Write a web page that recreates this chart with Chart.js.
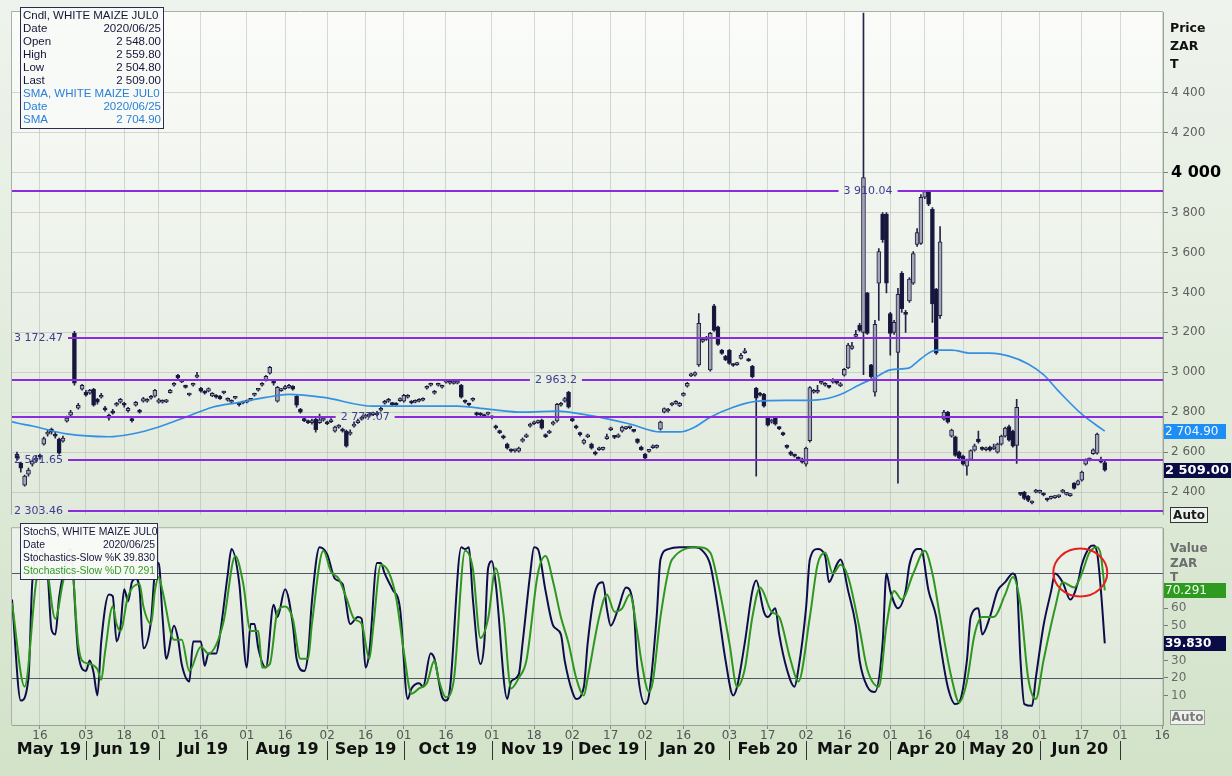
<!DOCTYPE html>
<html><head><meta charset="utf-8">
<script src="https://cdn.jsdelivr.net/npm/chart.js@4/dist/chart.umd.min.js"></script>
<style>
html,body{margin:0;padding:0;}
body{width:1232px;height:776px;overflow:hidden;position:relative;background:linear-gradient(#eff3ed,#d2e3c9);}
canvas{position:absolute;left:0;}
#c1{top:0;width:1232px;height:525px;}
#c2{top:518px;width:1232px;height:258px;}
</style></head><body>
<canvas id="c1" width="1232" height="525"></canvas>
<canvas id="c2" width="1232" height="258"></canvas>
<script>
// ---------------- DATA ----------------
const holidays = ['2019-05-08','2019-06-17','2019-08-09','2019-09-24','2019-12-16','2019-12-25','2019-12-26',
  '2020-01-01','2020-04-10','2020-04-13','2020-04-27','2020-05-01','2020-06-16'];
// trading day index 0 = 2019-05-07 ... 284 = 2020-06-25
const candleOpen = [
2590,2545,2435,2490,2540,2560,2580,2640,2690,2715,
2690,2665,2655,2755,2785,3195,2820,2915,2900,2895,
2915,2865,2875,2820,2785,2805,2835,2850,2845,2808,
2765,2835,2810,2855,2855,2870,2880,2850,2850,2852,
2898,2935,2985,2952,2932,2886,2935,2976,2920,2905,
2906,2882,2885,2880,2896,2860,2850,2870,2842,2846,
2850,2860,2885,2910,2935,2960,2995,2950,2855,2908,
2918,2924,2930,2880,2815,2768,2755,2748,2765,2748,
2760,2750,2752,2705,2725,2715,2705,2690,2730,2748,
2765,2775,2780,2788,2786,2810,2845,2855,2845,2842,
2858,2855,2875,2852,2850,2855,2860,2920,2935,2895,
2935,2925,2950,2945,2944,2946,2935,2858,2842,2860,
2795,2792,2784,2790,2778,2730,2705,2682,2640,2612,
2606,2605,2655,2676,2730,2742,2748,2760,2688,2696,
2740,2756,2835,2855,2899,2765,2730,2695,2645,2676,
2640,2600,2612,2614,2668,2712,2680,2676,2705,2718,
2722,2710,2665,2625,2590,2604,2622,2624,2715,2800,
2806,2836,2844,2832,2884,2930,2982,2985,3037,3155,
3165,3012,3333,3228,3110,3080,3110,3040,3038,3070,
3098,3066,3030,2920,2895,2890,2770,2750,2770,2724,
2694,2632,2600,2586,2572,2565,2540,2657,2900,2900,
2945,2935,2930,2950,2955,2932,2985,3022,3120,3180,
3235,3200,3398,3037,2900,3447,3793,3793,3294,3200,
3100,3496,3300,3358,3447,3640,3645,3877,3905,3817,
3417,3284,2765,2800,2680,2677,2600,2580,2530,2563,
2610,2665,2622,2612,2625,2616,2600,2640,2680,2728,
2705,2633,2392,2400,2380,2345,2400,2398,2392,2366,
2368,2372,2376,2400,2388,2382,2445,2438,2460,2540,
2560,2592,2595,2556,2548];
const candleHigh = [
2600,2550,2485,2520,2560,2580,2590,2675,2710,2720,
2700,2670,2680,2780,2810,3205,2845,2940,2910,2915,
2920,2870,2895,2830,2790,2815,2850,2870,2850,2825,
2775,2855,2815,2875,2868,2885,2915,2868,2862,2865,
2915,2948,2990,2962,2936,2896,2946,3000,2924,2908,
2922,2898,2888,2884,2906,2872,2862,2880,2846,2856,
2862,2870,2896,2920,2948,2985,3030,2955,2930,2920,
2935,2940,2934,2885,2820,2772,2760,2765,2770,2790,
2775,2756,2768,2730,2738,2720,2710,2712,2752,2765,
2780,2790,2795,2800,2805,2828,2860,2870,2850,2848,
2872,2890,2888,2858,2862,2868,2872,2932,2946,2910,
2946,2936,2965,2956,2955,2958,2940,2862,2846,2872,
2800,2798,2790,2800,2782,2735,2710,2686,2645,2616,
2615,2625,2672,2692,2746,2755,2760,2765,2692,2710,
2755,2845,2850,2875,2905,2770,2735,2700,2665,2690,
2645,2605,2625,2625,2690,2726,2684,2692,2730,2728,
2730,2714,2668,2630,2594,2614,2636,2636,2755,2822,
2820,2848,2858,2850,2898,2950,2996,3002,3294,3170,
3180,3200,3340,3232,3115,3085,3115,3044,3050,3095,
3120,3070,3035,2925,2900,2895,2775,2765,2775,2728,
2700,2636,2605,2590,2576,2570,2625,2928,2915,2935,
2960,2948,2935,2968,2960,2948,3020,3145,3150,3210,
3245,4800,3400,3040,3260,3620,3800,3800,3300,3260,
3420,3505,3310,3475,3605,3720,3890,3912,3912,3825,
3420,3730,2810,2805,2715,2680,2605,2585,2565,2612,
2640,2705,2626,2625,2630,2640,2645,2685,2725,2735,
2710,2864,2398,2404,2384,2356,2414,2410,2396,2370,
2380,2382,2386,2414,2398,2392,2448,2460,2505,2566,
2572,2616,2695,2575,2559.8];
const candleLow = [
2560,2500,2430,2480,2530,2550,2565,2635,2680,2690,
2670,2590,2650,2750,2780,2935,2815,2910,2880,2890,
2830,2840,2870,2805,2760,2790,2830,2845,2825,2800,
2750,2830,2795,2850,2850,2865,2875,2845,2845,2848,
2895,2930,2965,2948,2920,2882,2930,2972,2900,2890,
2902,2878,2870,2864,2892,2855,2846,2866,2830,2842,
2846,2856,2880,2905,2930,2955,2990,2935,2850,2904,
2914,2920,2910,2825,2795,2752,2742,2740,2700,2744,
2755,2738,2748,2700,2720,2700,2625,2685,2725,2744,
2760,2770,2775,2783,2782,2805,2840,2850,2832,2830,
2854,2850,2870,2842,2846,2852,2856,2915,2930,2890,
2930,2920,2945,2940,2940,2942,2870,2845,2830,2855,
2782,2780,2772,2785,2766,2715,2692,2666,2615,2600,
2600,2600,2650,2672,2725,2738,2744,2715,2672,2692,
2735,2750,2830,2850,2820,2752,2716,2680,2640,2672,
2615,2585,2608,2610,2664,2708,2668,2672,2700,2714,
2716,2700,2644,2608,2565,2600,2618,2620,2710,2796,
2800,2832,2840,2828,2880,2925,2978,2980,3030,3150,
3160,3005,3205,3135,3090,3058,3040,3030,3034,3066,
3094,3054,2972,2479,2880,2825,2730,2745,2735,2712,
2682,2618,2582,2575,2560,2545,2530,2650,2895,2895,
2940,2930,2920,2945,2940,2928,2980,3018,3115,3175,
3205,2988,3190,2970,2880,3260,3650,3398,3086,3190,
2444,3300,3200,3350,3440,3630,3640,3870,3835,3250,
3090,3270,2760,2745,2675,2578,2565,2535,2484,2558,
2605,2645,2608,2606,2605,2612,2595,2635,2675,2655,
2625,2543,2382,2362,2352,2340,2396,2394,2380,2354,
2364,2368,2372,2396,2384,2378,2414,2434,2455,2535,
2556,2588,2590,2546,2504.8];
const candleClose = [
2570,2520,2480,2510,2555,2570,2575,2668,2700,2700,
2680,2595,2670,2770,2800,2945,2835,2935,2885,2910,
2835,2850,2885,2812,2770,2795,2842,2865,2835,2820,
2758,2850,2800,2868,2862,2878,2910,2862,2856,2858,
2910,2942,2972,2956,2924,2892,2940,2980,2905,2895,
2918,2895,2875,2868,2902,2866,2856,2876,2836,2852,
2857,2866,2892,2916,2942,2980,3025,2945,2925,2916,
2926,2932,2915,2835,2800,2758,2748,2754,2712,2762,
2768,2742,2760,2725,2730,2705,2630,2700,2740,2755,
2772,2782,2786,2792,2796,2820,2852,2862,2838,2836,
2866,2885,2882,2846,2856,2862,2868,2926,2940,2905,
2942,2932,2956,2950,2950,2952,2875,2850,2836,2866,
2788,2786,2778,2794,2772,2722,2698,2672,2620,2605,
2610,2620,2665,2686,2740,2750,2754,2720,2678,2704,
2750,2839,2842,2868,2825,2758,2722,2688,2660,2686,
2620,2590,2620,2620,2676,2720,2674,2686,2725,2724,
2726,2704,2648,2612,2570,2610,2630,2630,2750,2818,
2815,2842,2852,2845,2892,2945,2990,2998,3245,3165,
3172,3195,3210,3140,3095,3062,3045,3034,3046,3085,
3104,3058,2978,2870,2885,2830,2735,2760,2740,2718,
2688,2624,2588,2580,2565,2550,2620,2923,2908,2906,
2955,2942,2924,2960,2945,2942,3015,3136,3132,3190,
3210,3975,3195,2978,3240,3605,3664,3447,3195,3250,
3390,3319,3290,3467,3595,3700,3877,3905,3842,3343,
3096,3654,2800,2750,2710,2583,2570,2540,2560,2608,
2632,2652,2614,2620,2610,2624,2640,2680,2720,2660,
2630,2825,2388,2368,2358,2352,2408,2404,2386,2360,
2374,2378,2382,2408,2394,2388,2418,2456,2500,2562,
2568,2612,2690,2550,2509];

const smaDay   = [-1.3,0,4,13,24,30,37,44,51,58,65,71,80,93,106,115,123,132,141,149,160,168,173,177,181,187,193,202,209,215,220,224,228,233,235,238,240,244,249,254,259,264,268,272,278,284];
const smaValue = [2752,2746,2731,2691,2677,2691,2726,2775,2825,2849,2874,2889,2874,2830,2830,2830,2815,2800,2805,2785,2741,2701,2701,2726,2775,2825,2854,2859,2862,2889,2938,2973,3012,3022,3052,3096,3111,3111,3096,3096,3081,3042,2988,2904,2790,2704.9];

const stochKDay = [-1.3,1,3,4,6,8,9,10,11,12,14,16,18,19,20,21,22,24,25,26,27,28,29,30,31,32,33,35,36,37,38,39,41,42,43,45,46,48,49,50,52,53,55,56,58,60,61,62,63,65,67,68,70,72,73,75,76,77,79,81,83,85,87,89,90,91,92,94,95,96,98,100,102,103,105,106,108,109,111,112,113,116,117,118,119,121,122,123,124,125,128,129,131,132,134,135,136,138,140,142,143,145,146,148,149,151,153,154,155,157,159,161,162,164,165,167,168,170,173,177,179,181,183,185,187,188,190,192,193,195,196,198,199,201,203,204,206,207,209,211,212,214,215,217,219,220,222,224,226,227,228,230,232,233,235,236,238,240,241,243,245,246,248,249,251,252,254,256,258,260,261,262,263,265,266,268,270,271,273,275,277,278,280,281,282,283,284];
const stochKValue = [65,7,20,75,94,80,48,45,66,79,94,34,24,30,23,10,41,68,67,41,49,71,64,75,77,71,37,53,81,86,55,31,50,43,28,18,41,41,27,34,34,45,79,94,75,26,51,51,37,26,62,55,71,51,31,24,34,64,95,91,77,74,51,55,54,26,35,86,86,80,71,60,8,14,17,15,34,31,9,7,13,95,94,95,66,28,40,83,87,74,8,18,22,40,80,95,94,70,50,45,30,12,8,15,40,70,75,60,50,60,72,60,25,5,10,55,88,94,95,95,93,85,60,30,10,15,40,70,76,58,55,60,45,25,15,25,60,88,94,90,75,85,88,70,50,30,15,12,40,80,70,60,70,85,94,94,70,55,40,15,5,6,30,55,60,45,55,70,75,80,75,30,5,4,20,50,70,80,75,65,75,85,95,96,92,70,39.83];
const stochDDay = [-1.3,2,5,7,10,12,14,16,17,19,21,22,23,25,26,27,29,32,33,35,36,37,38,41,43,45,48,50,52,54,57,59,61,63,64,66,68,70,72,74,76,77,80,82,84,86,88,90,92,93,95,97,99,101,103,105,107,109,110,112,114,117,119,121,123,125,127,129,131,133,136,138,140,142,144,146,148,149,152,154,156,158,160,162,163,165,166,168,171,178,181,183,186,188,190,192,194,197,199,202,204,207,209,211,213,215,217,220,222,225,227,229,231,234,237,239,241,244,246,248,250,252,255,258,260,262,264,266,268,271,273,276,278,280,282,283,284];
const stochDValue = [63,15,75,92,54,75,90,39,30,28,25,19,35,61,51,47,67,74,61,51,70,78,70,42,42,24,38,34,39,53,90,75,47,47,26,28,58,61,54,31,31,51,93,81,77,66,54,51,31,49,85,81,66,35,11,14,17,30,20,9,18,93,83,43,54,83,57,14,20,30,80,90,75,55,40,20,10,20,55,68,58,60,68,45,30,12,18,55,88,95,92,75,40,15,25,55,72,58,55,30,18,55,85,92,80,85,78,48,25,15,50,70,65,80,93,80,55,20,6,18,45,55,55,68,78,62,20,8,30,60,75,72,80,92,95,90,70.29];

const priceTicks = [2400,2600,2800,3000,3200,3400,3600,3800,4000,4200,4400];
const stochTicks = [10,20,30,40,50,60,70];
const levelValues = [3910.04, 3172.47, 2963.2, 2777.07, 2561.65, 2303.46];
const levelLabelAt = [222.2, null, 140.7, 90.9, null, null]; // label centre (trading-day index) or null = left edge
const stochLevels = [20, 80];

const priceLegend = [
  ['Cndl, WHITE MAIZE JUL0',''],['Date','2020/06/25'],['Open','2 548.00'],['High','2 559.80'],
  ['Low','2 504.80'],['Last','2 509.00'],['SMA, WHITE MAIZE JUL0',''],['Date','2020/06/25'],['SMA','2 704.90']];
const stochLegend = [['StochS, WHITE MAIZE JUL0',''],['Date','2020/06/25'],['Stochastics-Slow %K','39.830'],['Stochastics-Slow %D','70.291']];
const lastSMA = 2704.90, lastClose = 2509.00, lastK = 39.830, lastD = 70.291;

// ---------------- CALENDAR ----------------
function tradingDays(n){
  const out=[]; const d=new Date(Date.UTC(2019,4,6));
  while(out.length<n){
    const dow=d.getUTCDay(), s=d.toISOString().slice(0,10);
    if(dow!==0 && dow!==6 && !holidays.includes(s)) out.push(new Date(d));
    d.setUTCDate(d.getUTCDate()+1);
  }
  return out;
}
const days = tradingDays(305); // days[k] -> index k-1
const X_MIN = -1.3, X_MAX = 299.2;
const half = d => d.getUTCDate()>=16 ? 1 : 0;
const dayTicks = [], monthStarts = [];
for(let k=1;k<days.length;k++){
  const d=days[k], p=days[k-1], idx=k-1;
  if(d.getUTCMonth()!==p.getUTCMonth()){ monthStarts.push({idx, y:d.getUTCFullYear(), m:d.getUTCMonth()}); }
  if((d.getUTCMonth()!==p.getUTCMonth() || half(d)!==half(p)) && idx>=X_MIN && idx<=X_MAX)
    dayTicks.push({idx, label:String(d.getUTCDate()).padStart(2,'0')});
}
const tickLabel = {}; dayTicks.forEach(t=>tickLabel[t.idx]=t.label);
const monthNames=['Jan','Feb','Mar','Apr','May','Jun','Jul','Aug','Sep','Oct','Nov','Dec'];

// ---------------- HELPERS ----------------
const FONT = '"DejaVu Sans", Verdana, sans-serif';
const LFONT = '"Liberation Sans", Arial, sans-serif';
Chart.defaults.font.family = FONT;
const GRID = 'rgba(165,176,160,0.45)';
const AXIS = '#98a296';
const grp = s => s.replace(/\B(?=(\d{3})+(?!\d))/g,' ');
const fmtRaw = v => { const [a,b]=String(v).split('.'); return grp(a)+(b!==undefined?'.'+b:''); };
const fmtFix = (v,d) => { const [a,b]=Number(v).toFixed(d).split('.'); return grp(a)+(b?'.'+b:''); };

function areaBg(ctx,a,c1,c2){
  const g=ctx.createLinearGradient(0,a.top,0,a.bottom); g.addColorStop(0,c1); g.addColorStop(1,c2);
  ctx.fillStyle=g; ctx.fillRect(a.left,a.top,a.right-a.left,a.bottom-a.top);
}
function tagBox(ctx,x,yc,w,h,txt,bgc,fg,font){
  ctx.fillStyle=bgc; ctx.fillRect(x,Math.round(yc-h/2),w,h);
  ctx.fillStyle=fg; ctx.font=font; ctx.textAlign='left'; ctx.textBaseline='middle';
  ctx.fillText(txt,x+1,Math.round(yc)+0.5);
}
function legendBox(ctx,x,y,w,rows,colors,step,size){
  ctx.fillStyle='rgba(248,250,247,0.96)'; ctx.fillRect(x,y,w,rows.length*step+4);
  ctx.strokeStyle='#2c2c50'; ctx.lineWidth=1; ctx.strokeRect(x+0.5,y+0.5,w,rows.length*step+4);
  ctx.font=size+'px '+LFONT; ctx.textBaseline='middle';
  rows.forEach((r,i)=>{
    const yy=y+2+step*i+step/2+0.5;
    ctx.fillStyle=colors[i];
    ctx.textAlign='left'; ctx.fillText(r[0],x+3,yy);
    if(r[1]){ctx.textAlign='right'; ctx.fillText(r[1],x+w-2,yy);}
  });
  ctx.textAlign='left';
}
function autoBox(ctx,x,y,w,h,stroke,fg){
  ctx.fillStyle='#eef2ec'; ctx.fillRect(x,y,w,h);
  ctx.strokeStyle=stroke; ctx.lineWidth=1; ctx.strokeRect(x+0.5,y+0.5,w,h);
  ctx.fillStyle=fg; ctx.font='bold 12px '+FONT; ctx.textBaseline='middle'; ctx.textAlign='center';
  ctx.fillText('Auto',x+w/2+0.5,y+h/2+1); ctx.textAlign='left';
}

const xScaleBase = {
  type:'linear', min:X_MIN, max:X_MAX, offset:false,
  afterBuildTicks:s=>{ s.ticks = dayTicks.map(t=>({value:t.idx})); },
  grid:{color:GRID, offset:false}
};

// ---------------- PRICE CHART ----------------
const pricePlugin = {
  id:'pricePlugin',
  beforeDraw(chart){ const {ctx,chartArea:a}=chart; ctx.save(); areaBg(ctx,a,'#fbfcfa','#e0e9db'); ctx.restore(); },
  beforeDatasetsDraw(chart){
    const {ctx,chartArea:a}=chart; ctx.save();
    ctx.strokeStyle='#a9b1a7'; ctx.lineWidth=1;
    ctx.beginPath(); ctx.moveTo(a.left-0.5,a.bottom); ctx.lineTo(a.left-0.5,a.top-0.5); ctx.lineTo(a.right,a.top-0.5); ctx.stroke();
    ctx.restore();
  },
  afterDatasetsDraw(chart){
    const {ctx,chartArea:a,scales:{x,y}}=chart; ctx.save();
    ctx.font='11px '+FONT; ctx.textBaseline='middle';
    levelValues.forEach((v,k)=>{
      const py=Math.round(y.getPixelForValue(v));
      const txt=fmtRaw(v), w=ctx.measureText(txt).width;
      const t0 = levelLabelAt[k]===null ? a.left+2 : x.getPixelForValue(levelLabelAt[k])-w/2;
      const t1 = t0+w;
      ctx.strokeStyle='#8b2be0'; ctx.lineWidth=2; ctx.beginPath();
      if(t0-5>a.left){ctx.moveTo(a.left,py); ctx.lineTo(t0-5,py);}
      ctx.moveTo(t1+5,py); ctx.lineTo(a.right,py); ctx.stroke();
      ctx.fillStyle='#3d3d90'; ctx.fillText(txt,t0,py+0.5);
    });
    ctx.restore();
  },
  afterDraw(chart){
    const {ctx,chartArea:a,scales:{y}}=chart; ctx.save();
    legendBox(ctx,20,7,143,priceLegend,['#15153a','#15153a','#15153a','#15153a','#15153a','#15153a','#2a7fd6','#2a7fd6','#2a7fd6'],13,11.5);
    ctx.fillStyle='#111'; ctx.font='bold 12.5px '+FONT; ctx.textBaseline='middle';
    ['Price','ZAR','T'].forEach((t,i)=>ctx.fillText(t,1170,29+i*18));
    tagBox(ctx,a.right+1,y.getPixelForValue(lastSMA),62,15,fmtFix(lastSMA,2),'#1d8ef5','#f4f8ff','12px '+FONT);
    tagBox(ctx,a.right+1,y.getPixelForValue(lastClose),67,15,fmtFix(lastClose,2),'#0b0b46','#ffffff','bold 13px '+FONT);
    autoBox(ctx,1170,507,37,15,'#333','#1a1a1a');
    ctx.restore();
  }
};

const bull = c => c.raw && c.raw.y[1] >= c.raw.y[0];
new Chart(document.getElementById('c1'),{
  type:'bar',
  data:{datasets:[
    {type:'line', label:'SMA', data:smaDay.map((d,i)=>({x:d,y:smaValue[i]})), borderColor:'#3490e2', borderWidth:1.7,
     pointRadius:0, cubicInterpolationMode:'monotone', order:0},
    {label:'body', data:candleOpen.map((o,i)=>({x:i,y:[o,candleClose[i]]})), grouped:false, barThickness:4, minBarLength:2,
     borderWidth:1, borderSkipped:false, order:1,
     backgroundColor:c=> bull(c)?'#a3a4b3':'#15153c', borderColor:'#1d1d45'},
    {label:'wick', data:candleHigh.map((h,i)=>({x:i,y:[candleLow[i],h]})), grouped:false, barThickness:1,
     borderWidth:0, backgroundColor:'#24244a', order:2}
  ]},
  options:{
    responsive:false, animation:false, devicePixelRatio:1, events:[],
    layout:{padding:{left:12,top:12,right:0,bottom:3}},
    plugins:{legend:{display:false},tooltip:{enabled:false}},
    scales:{
      x:Object.assign({}, xScaleBase, {ticks:{display:false}, grid:{color:GRID, offset:false, drawTicks:false}, border:{display:false},
        afterFit:s=>{s.height=0;}}),
      y:{type:'linear', position:'right', min:2286, max:4805, beginAtZero:false,
        afterBuildTicks:s=>{ s.ticks=priceTicks.map(v=>({value:v})); },
        afterFit:s=>{ s.width=69; },
        grid:{color:GRID, tickColor:'#7a7a7a', tickLength:5},
        border:{display:true,color:AXIS},
        ticks:{padding:3, autoSkip:false,
          color:c=> c.tick && c.tick.value===4000 ? '#000' : '#5e5e5e',
          font:c=> c.tick && c.tick.value===4000 ? {family:FONT,size:16,weight:'bold'} : {family:FONT,size:12},
          callback:v=>fmtRaw(v)}
      }
    }
  },
  plugins:[pricePlugin]
});

// ---------------- STOCHASTICS CHART ----------------
const stochPlugin = {
  id:'stochPlugin',
  beforeDraw(chart){ const {ctx,chartArea:a}=chart; ctx.save(); areaBg(ctx,a,'#edf2ea','#dbe7d5'); ctx.restore(); },
  beforeDatasetsDraw(chart){
    const {ctx,chartArea:a,scales:{y}}=chart; ctx.save();
    ctx.strokeStyle='#a9b1a7'; ctx.lineWidth=1;
    ctx.beginPath(); ctx.moveTo(a.left-0.5,a.bottom); ctx.lineTo(a.left-0.5,a.top-0.5); ctx.lineTo(a.right,a.top-0.5); ctx.stroke();
    ctx.strokeStyle='#4f5768'; ctx.lineWidth=1.2;
    stochLevels.forEach(v=>{ const py=Math.round(y.getPixelForValue(v))+0.5; ctx.beginPath(); ctx.moveTo(a.left,py); ctx.lineTo(a.right,py); ctx.stroke(); });
    ctx.restore();
  },
  afterDatasetsDraw(chart){
    const {ctx,scales:{x,y}}=chart; ctx.save();
    ctx.strokeStyle='#e3211d'; ctx.lineWidth=2; ctx.beginPath();
    ctx.ellipse(x.getPixelForValue(277.6), y.getPixelForValue(80.5), 27, 24, 0, 0, Math.PI*2); ctx.stroke();
    ctx.restore();
  },
  afterDraw(chart){
    const {ctx,chartArea:a,scales:{x,y}}=chart; ctx.save();
    legendBox(ctx,20,5,137,stochLegend,['#15153a','#15153a','#15153a','#2f9a22'],13,10.4);
    ctx.fillStyle='#6e6e6e'; ctx.font='bold 12px '+FONT; ctx.textBaseline='middle'; ctx.textAlign='left';
    ['Value','ZAR','T'].forEach((t,i)=>ctx.fillText(t,1170,31+i*14.5));
    tagBox(ctx,a.right+1,y.getPixelForValue(lastD),62,15,fmtFix(lastD,3),'#2e9a20','#f0fff0','12px '+FONT);
    tagBox(ctx,a.right+1,y.getPixelForValue(lastK),62,15,fmtFix(lastK,3),'#0b0b46','#ffffff','bold 12px '+FONT);
    autoBox(ctx,1170,192,34,14,'#9a9a9a','#7a7a7a');
    // month labels
    const yb=a.bottom;
    ctx.font='bold 16px '+FONT; ctx.fillStyle='#111'; ctx.textAlign='center'; ctx.textBaseline='middle';
    let prevIdx = X_MIN, prevY=2019, prevM=4;
    monthStarts.forEach(ms=>{
      if(ms.idx>X_MAX) return;
      const x0=x.getPixelForValue(prevIdx), x1=x.getPixelForValue(ms.idx);
      ctx.fillText(monthNames[prevM]+' '+String(prevY).slice(2),(x0+x1)/2,yb+25);
      const sx=Math.round(x1)+0.5;
      ctx.strokeStyle='#333'; ctx.lineWidth=1; ctx.beginPath(); ctx.moveTo(sx,yb+16); ctx.lineTo(sx,yb+35); ctx.stroke();
      prevIdx=ms.idx; prevY=ms.y; prevM=ms.m;
    });
    ctx.restore();
  }
};

new Chart(document.getElementById('c2'),{
  type:'line',
  data:{datasets:[
    {label:'%D', data:stochDDay.map((d,i)=>({x:d,y:stochDValue[i]})), borderColor:'#2f961f', borderWidth:2, pointRadius:0,
     cubicInterpolationMode:'monotone', order:0},
    {label:'%K', data:stochKDay.map((d,i)=>({x:d,y:stochKValue[i]})), borderColor:'#0d0d4a', borderWidth:2, pointRadius:0,
     cubicInterpolationMode:'monotone', order:1}
  ]},
  options:{
    responsive:false, animation:false, devicePixelRatio:1, events:[],
    layout:{padding:{left:12,top:9,right:0,bottom:0}},
    plugins:{legend:{display:false},tooltip:{enabled:false}},
    scales:{
      x:Object.assign({}, xScaleBase, {
        afterFit:s=>{s.height=51;},
        grid:{color:GRID, offset:false, tickColor:'#8a8a8a', tickLength:4},
        border:{display:true,color:AXIS},
        ticks:{autoSkip:false, maxRotation:0, padding:0, color:'#555', font:{family:FONT,size:12},
          callback:v=>tickLabel[v]||''}
      }),
      y:{type:'linear', position:'right', min:-7, max:106,
        afterBuildTicks:s=>{ s.ticks=stochTicks.map(v=>({value:v})); },
        afterFit:s=>{ s.width=69; },
        grid:{drawOnChartArea:false, tickColor:'#7a7a7a', tickLength:5},
        border:{display:true,color:AXIS},
        ticks:{padding:3, color:'#6a6a6a', font:{family:FONT,size:12}, autoSkip:false}
      }
    }
  },
  plugins:[stochPlugin]
});
</script>
</body></html>
